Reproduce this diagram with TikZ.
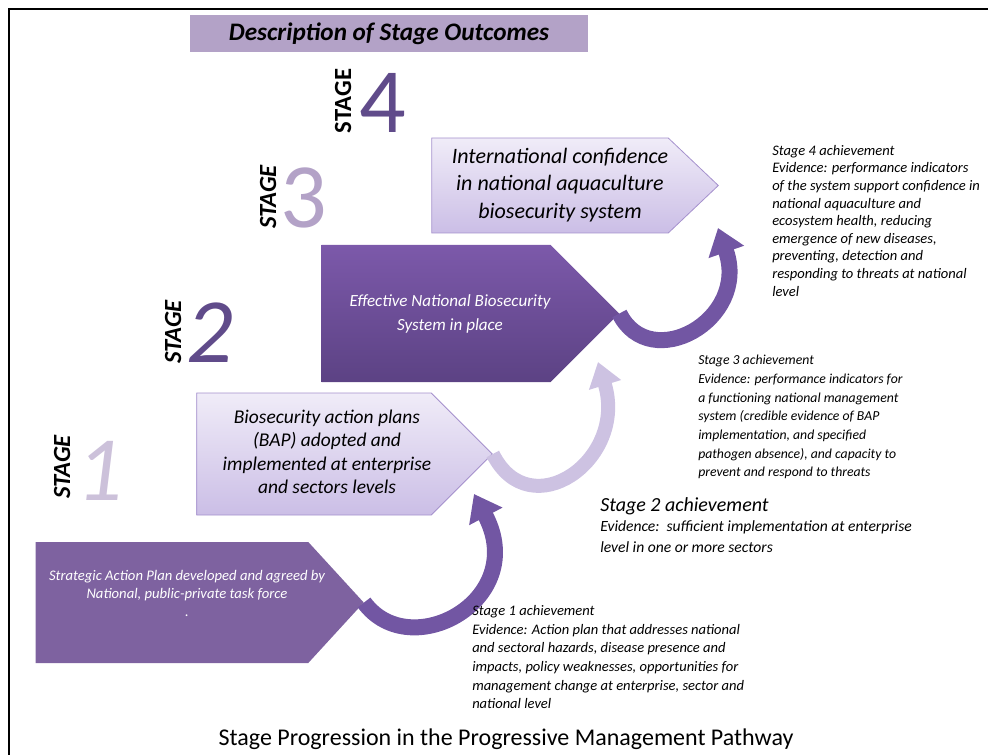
\documentclass[tikz,border=0pt]{standalone}
\usepackage{fontspec}
\setmainfont{Carlito}
\usetikzlibrary{shapes.symbols,arrows.meta,positioning}

\definecolor{tituloc}{RGB}{179,162,199}
\definecolor{claroa}{RGB}{240,236,248}
\definecolor{clarob}{RGB}{203,190,230}
\definecolor{bordec}{RGB}{165,145,205}
\definecolor{oscuroa}{RGB}{124,89,170}
\definecolor{oscurob}{RGB}{92,66,132}
\definecolor{oscuroc}{RGB}{126,98,160}
\definecolor{flechaa}{RGB}{114,86,163}
\definecolor{flechab}{RGB}{205,194,226}
\definecolor{num4}{RGB}{96,75,138}
\definecolor{num3}{RGB}{179,162,199}
\definecolor{num1}{RGB}{204,193,218}

\tikzset{
  cajaclara/.style={shape=signal, signal to=east, signal pointer angle=90,
    inner sep=0pt, draw=bordec, line width=0.6pt,
    top color=claroa, bottom color=clarob, text=black},
  cajaoscura/.style={shape=signal, signal to=east, signal pointer angle=90,
    inner sep=0pt, draw=none, text=white},
  etapa/.style={rotate=90, inner sep=0pt, font=\bfseries\fontsize{18.5}{20}\selectfont},
  etapai/.style={etapa, font=\bfseries\itshape\fontsize{18.5}{20}\selectfont},
  numero/.style={anchor=base, inner sep=0pt},
  logro/.style={anchor=north west, align=left, inner sep=0pt,
    font=\itshape\fontsize{10.9}{13.2}\selectfont},
  flecha/.style={line width=12pt, color=flechaa, -{Triangle[width=27pt,length=19pt]}}
}

\begin{document}
\begin{tikzpicture}[x=0.75pt,y=-0.75pt]
    \useasboundingbox (0,0) rectangle (988,755);
    % Marco
    \draw[line width=2.2pt] (988,9) -- (9,9) -- (9,755);
    % Titulo
    \node[fill=tituloc, minimum width=298.5pt, minimum height=27.75pt, inner sep=0pt,
      font=\bfseries\itshape\fontsize{18.9}{20}\selectfont] (titulo) at (389,33.5)
      {Description of Stage Outcomes};
    % Etapas
    \node[etapa] (st4) at (343,101) {STAGE};
    \node[numero, text=num4, font=\fontsize{69}{70}\selectfont] (n4) at (383,133) {4};
    \node[etapai] (st3) at (268,197) {STAGE};
    \node[numero, text=num3, font=\fontsize{69}{70}\selectfont] (n3) at (304,228) {3};
    \node[etapai] (st2) at (173,332) {STAGE};
    \node[numero, text=num4, font=\itshape\fontsize{69}{70}\selectfont] (n2) at (210,363) {2};
    \node[etapai] (st1) at (62,467) {STAGE};
    \node[numero, text=num1, font=\itshape\fontsize{69}{70}\selectfont] (n1) at (100,500) {1};
    % Cajas
    \node[cajaclara, signal pointer angle=87, minimum width=213.75pt, minimum height=71.25pt,
      font=\itshape\fontsize{16.5}{20.5}\selectfont] (b4) at (550,185.5)
      {\hspace*{15pt}\begin{tabular}{@{}c@{}}International confidence\\in national aquaculture\\biosecurity system\end{tabular}};
    \node[cajaoscura, top color=oscuroa, bottom color=oscurob, minimum width=216.75pt,
      minimum height=102.75pt, font=\itshape\fontsize{12.8}{18.5}\selectfont] (b3) at (436,313.5)
      {\hspace*{21pt}\begin{tabular}{@{}c@{}}Effective National Biosecurity\\System in place\end{tabular}};
    \node[cajaclara, minimum width=213.75pt, minimum height=91.5pt,
      font=\itshape\fontsize{14.6}{17.6}\selectfont] (b2) at (314,454)
      {\hspace*{19.5pt}\begin{tabular}{@{}c@{}}Biosecurity action plans\\(BAP) adopted and\\implemented at enterprise\\and sectors levels\end{tabular}};
    \node[cajaoscura, fill=oscuroc, signal pointer angle=95, minimum width=246pt,
      minimum height=90.75pt, font=\itshape\fontsize{11}{13.5}\selectfont] (b1) at (172,602.5)
      {\makebox[150pt]{\hspace*{22.5pt}\begin{tabular}{@{}c@{}}Strategic Action Plan developed and agreed by\\National, public-private task force\\.\\[12pt]\end{tabular}}};
    % Flechas curvas
    \coordinate (h1) at (474,494);
    \coordinate (h2) at (598,362);
    \coordinate (h3) at (718,228);
    \draw[flecha] (b1.east) .. controls (410,665) and (530,600) .. (h1);
    \draw[flecha, line width=10.5pt, color=flechab, -{Triangle[width=24pt,length=18pt]}]
      (b2.east) .. controls (530,528) and (628,460) .. (h2);
    \draw[flecha] (b3.east) .. controls (650,375) and (750,320) .. (h3);
    % Logros
    \node[logro] (l4) at (772,145) {Stage 4 achievement\\Evidence: performance indicators\\of the system support confidence in\\national aquaculture and\\ecosystem health, reducing\\emergence of new diseases,\\preventing, detection and\\responding to threats at national\\level};
    \node[logro, font=\itshape\fontsize{10.3}{14}\selectfont] (l3) at (698,355) {Stage 3 achievement\\Evidence: performance indicators for\\a functioning national management\\system (credible evidence of BAP\\implementation, and specified\\pathogen absence), and capacity to\\prevent and respond to threats};
    \node[logro, font=\itshape\fontsize{11.7}{15.5}\selectfont] (l2) at (600,497) {{\fontsize{15}{18}\selectfont Stage 2 achievement}\\Evidence:\ \ sufficient implementation at enterprise\\level in one or more sectors};
    \node[logro, font=\itshape\fontsize{10.9}{14}\selectfont] (l1) at (472,605) {Stage 1 achievement\\Evidence: Action plan that addresses national\\and sectoral hazards, disease presence and\\impacts, policy weaknesses, opportunities for\\management change at enterprise, sector and\\national level};
    % Pie
    \node[font=\fontsize{18}{20}\selectfont] (pie) at (506,739) {Stage Progression in the Progressive Management Pathway};
\end{tikzpicture}
\end{document}
